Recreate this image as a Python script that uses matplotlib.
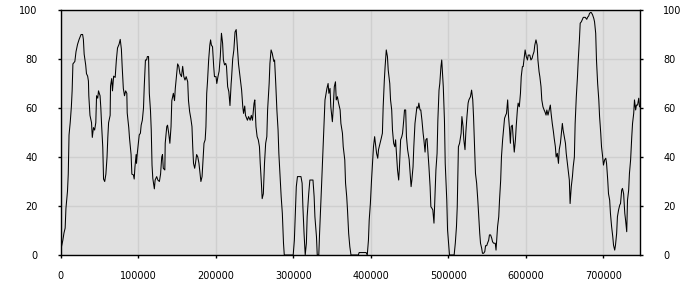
import matplotlib
matplotlib.use("Agg")
import matplotlib.pyplot as plt

# series values
x_vals = [
    0, 1000, 3000, 4500, 6000, 7000, 9000, 10000, 11000, 12500, 14000, 15000, 16000,
    18500, 20000, 22000, 24000, 26500, 28500, 29500, 30500, 32500, 33500, 35000, 36000,
    36500, 38000, 40000, 41000, 42500, 44000, 45500, 46500, 48000, 49000, 51000, 52000,
    53000, 54500, 55500, 57000, 58500, 60000, 61000, 62000, 64000, 64500, 66000, 67000,
    68500, 70500, 72000, 73500, 75500, 77000, 78500, 79500, 81000, 82500, 84000, 85500,
    86000, 88000, 89000, 91000, 92000, 94000, 95000, 96000, 97500, 98000, 99000, 100500,
    101500, 103000, 104000, 105500, 107000, 108000, 109500, 111000, 112000, 113500,
    114500, 116000, 117000, 118000, 119000, 121000, 122000, 124000, 125500, 127500,
    129000, 130500, 131500, 132500, 134500, 135000, 137000, 138000, 139500, 141000,
    142500, 143500, 145500, 147000, 148000, 150000, 151000, 152500, 154000, 156000,
    157500, 159000, 160500, 162000, 164000, 165000, 166500, 168000, 169500, 170500,
    171500, 173000, 174000, 175500, 177000, 178500, 180000, 181000, 182500, 183500,
    185000, 186500, 187500, 188500, 189500, 191000, 192500, 193500, 194500, 196000,
    197500, 198500, 200500, 201500, 203000, 204500, 206000, 207500, 209000, 210000,
    211500, 213000, 214000, 215500, 217000, 218500, 220000, 220500, 222000, 223500,
    225000, 226500, 228000, 229500,
    231500, 233500, 235000, 236000, 237500, 238500, 241000, 242500, 244500, 246000,
    247500, 249500, 250500, 252000, 253500, 255000, 256500, 257500, 259000, 260000,
    261500, 263000, 264500, 266000, 267000, 269000, 270000, 271500, 273000, 275000,
    276000, 277500, 279000, 280500, 281500, 283000, 284500, 286000, 287500, 288500,
    300000, 301500, 302500, 304000, 305500, 308000, 310000, 311500, 312500, 314000,
    315500, 317000, 318000, 320000, 321500, 324000, 325500, 327000, 328000, 330000,
    331000, 333000, 334000, 335500, 336500, 338000, 339500, 341000, 342500, 343500,
    345000, 346000, 347500, 348500, 350500, 351500, 353000, 354500, 355500, 357000,
    358500, 360500, 361500, 363500, 364500, 366500, 367500, 369000, 370000, 371500,
    373000, 374500, 384000, 385000, 388000, 394000, 395500, 397000, 398000, 399500,
    401000, 402500, 403500, 405000, 406500, 407500, 409000, 410000, 412000, 413500,
    415000, 416000, 417500, 418500, 420000, 421500, 422500, 424500, 425500, 427000,
    428000, 429500, 431000, 432000, 433500, 434500, 436000, 437000, 438500, 440000,
    441000, 442500, 443500, 445000, 446000, 447500, 449500, 450500, 452000, 453000,
    454500, 455500, 457000, 458500, 459500, 461000, 462000, 463500, 464500, 466000,
    467500, 468500, 470000, 471000, 472500, 473500, 475000, 476500, 477500, 479000,
    480000, 481500, 483000, 484000, 485500, 486500, 488000, 489000, 490500, 491500,
    492000, 493500, 495000, 496000, 498000, 499000, 500500, 501500, 507500, 509000,
    510500, 511500, 513000, 514500,
    516500, 517500, 519000, 520000, 521500, 522500, 524000, 525500, 526500, 528500,
    530000, 531500, 532500, 534000, 535000, 536500, 538000, 539000, 540500, 541500,
    543000, 544000, 545500, 547000, 548000, 549500, 550500, 552000, 553000, 554500,
    556000, 557000, 558500, 559500, 560500, 561500, 562500, 563500, 565000, 566000,
    567500, 568500, 570000, 571500, 572500, 574000, 575000, 576500, 577500, 579000,
    580000, 581000, 582500, 583500, 585000, 586500, 587500, 589000, 590000, 591500,
    593000, 594000, 595500, 596500, 598000, 599000, 600500, 602000, 603000, 605000,
    606500, 608000, 609000, 610500, 611500, 613000, 614500, 615500, 617000, 618000,
    619500, 620500, 622000, 623500, 624500, 626000, 627000, 628500, 630000, 631500,
    632500, 634000, 635500, 636500, 638000, 639000, 640500, 642000, 643000, 644500,
    645500, 647000, 648000, 649500, 651000, 652000, 653500, 654500, 656000, 657000,
    658500, 660000, 661000, 662500, 663500, 665000, 666500, 667500, 669000, 670000,
    671500, 672500, 674000, 675500, 676500, 678500, 679500, 681000, 682000, 683500,
    684500, 686000, 687500, 688500, 690000, 691000, 692500, 694000, 695000, 696500,
    697500, 699000, 700000, 701500, 703000, 704000, 705500, 706500, 708000, 709000,
    710500, 712000, 713000, 714500, 715500, 717000, 718000, 719500, 721000, 722000,
    723500, 724500, 726000, 727500, 728500, 730000, 731000, 732500, 733500, 735000,
    736500, 737500, 739000, 740000, 741500, 742500, 744000, 745500, 746500, 747500,
]

y_vals = [
    0, 3, 6, 9, 11, 19, 26, 33, 49, 54, 60.5, 67, 78,
    79, 83, 86, 88, 90, 90, 88, 82, 77.5, 74, 73, 71,
    65, 57, 54, 48, 52, 51, 54, 65, 64, 67, 65, 60,
    53, 44, 31, 30, 33, 40, 48, 54, 57, 69, 72, 67,
    73, 72.5, 79.5, 84.5, 86, 88, 84, 77, 68, 65, 67, 66,
    58, 52, 47.6, 41, 33, 32.7, 31, 36, 41, 37.4, 41.5, 46,
    49, 49.7, 53, 55, 60, 69, 79.6, 79.6, 81, 81,
    66, 59, 51, 36.7, 31.3, 27, 30.6, 32, 30.6, 30,
    33, 40, 41, 35.4, 34.7, 45.6, 52.4, 53, 49.7, 45.6,
    52.4, 63, 66, 63, 68, 75, 78, 77, 74, 72.8,
    77, 72.8, 71.4, 72.8, 70.7, 63, 58.5, 55.8, 52.4, 44,
    37.4, 35.4, 37.4, 41, 40, 37.4, 33, 30, 32, 37.4,
    45.6, 47, 52.4, 66, 70.7, 79.6, 85.7, 87.8, 85.7, 85,
    77, 72.8, 72.8, 70, 72.8, 75, 81, 90.5, 86.4, 79.6,
    77.6, 78.2, 77, 68.7, 66.7, 61, 70, 72, 80, 83.7,
    91, 92, 85, 78,
    72.8, 67.3, 60.5, 57.8, 60.8, 57, 55, 56.5, 55, 57,
    55, 61.9, 63.3, 52.4, 48.3, 47, 44.2, 37.4, 29.3, 23,
    25, 37.4, 45.6, 48.3, 59.2, 70, 78.2, 83.7, 82.3, 79,
    79.6, 70, 59, 51, 41.5, 33, 23.8, 17, 4.8, 0,
    0, 6, 14.3, 27.9, 32, 32, 32, 29.3, 19.7, 8.8,
    0, 4.8, 15.6, 25, 30.6, 30.6, 30.6, 23.8, 15.6, 7.5,
    0, 0, 8.8, 19.7, 27.9, 40, 52.4, 63.3, 66, 68,
    70, 66, 68, 60.5, 54.4, 59.2, 68.7, 70.7, 63.3, 64.6,
    62, 59.2, 53.7, 49.7, 44.2, 38.8, 29.3, 23.8, 18.4, 8.8,
    3.4, 0, 0, 1, 1, 1, 0, 6, 14.3, 21,
    30.6, 38.8, 44.2, 48.3, 44.2, 41.5, 39.5, 43, 45.6, 47.6,
    49.7, 60.5, 71.4, 76.9, 83.7, 81, 75.5, 70, 63.3, 59.2,
    51, 45.6, 44.2, 47, 40, 34.7, 30.6, 36, 47, 48.3,
    49.7, 55, 59.2, 59.2, 48.3, 43, 39, 34.7, 27.9, 30.6,
    36, 44.2, 53.7, 57.8, 60.5, 59.9, 62, 59.2, 59.2, 55,
    49.7, 47, 42, 47, 47.6, 43, 36, 27.9, 19.7, 19,
    18.4, 13, 26.5, 34.7, 41.5, 55, 67.3, 70, 76.9, 79.6,
    76.9, 68.7, 55, 37.4, 22.4, 10.2, 4, 0, 0, 4.8,
    11.6, 19.7, 44.2, 45.6,
    49.7, 56.5, 52.4, 47, 43, 49.7, 56.5, 62, 63.3, 64.6,
    67.3, 63.3, 56.5, 43, 33.3, 29.3, 22.4, 17, 8.8, 4.8,
    2.7, 0.7, 0.7, 1.4, 3.8, 3.8, 4.8, 6, 8.2, 8.2,
    6.8, 5.4, 4.8, 4.8, 4.8, 2, 6.8, 11.6, 15.6, 22.4,
    30.6, 40, 47, 52.4, 55.8, 57.1, 57.8, 63.3, 57.1, 51,
    45.6, 52.4, 53, 48.3, 42, 47, 52.4, 59.2, 62, 60.5,
    66, 72.8, 76.9, 76.9, 81, 83.7, 81, 79.6, 81.6, 81.6,
    79.6, 80.3, 81.6, 83, 85.7, 87.8, 85.7, 79.6, 74.8, 72.8,
    68.7, 63.3, 60.5, 59.2, 58.5, 57.1, 59.2, 57.1, 59.2, 61.2,
    57.8, 53.7, 50.3, 47.6, 44.2, 40, 41.5, 37.4, 43, 45.6,
    49, 53.7, 51, 48.3, 45.6, 41.5, 37.4, 34.7, 30.6, 21,
    27.9, 32, 36, 40, 53.7, 64.6, 72.8, 79.6, 87.8, 94.6,
    95.2, 95.9, 97, 97, 97, 96.2, 97, 97.6, 98.6, 99,
    98.9, 98, 96.6, 95.2, 90.5, 79.6, 70, 63.3, 56.5, 49.7,
    44.2, 40, 36.7, 38.8, 39.5, 37.4, 30.6, 25, 22.4, 17,
    11.6, 7.5, 4, 2, 4, 8.8, 15.6, 18.4, 20.4, 21,
    26.5, 27.2, 25, 17, 14.3, 9.5, 22.4, 26.5, 33.3, 38.8,
    48.3, 53.7, 57.8, 63.3, 59.2, 61.2, 61.2, 64, 60.5, 60.5,
]

x_ticks = [0, 100000, 200000, 300000, 400000, 500000, 600000, 700000]
y_ticks = [0, 20, 40, 60, 80, 100]

fig = plt.figure(figsize=(7, 3), dpi=100)
ax = fig.add_axes([60.5 / 700, 45 / 300, 579.8 / 700, 245 / 300])
ax.set_facecolor("#e0e0e0")
ax.plot(x_vals, y_vals, color="black", linewidth=0.75)

ax.set_xlim(0, 747500)
ax.set_ylim(0, 100)
ax.set_xticks(x_ticks)
ax.set_yticks(y_ticks)
ax.set_xticklabels([str(t) for t in x_ticks])
ax.grid(True, color="#cfcfcf", linewidth=1)
ax.set_axisbelow(True)

for s in ax.spines.values():
    s.set_color("black")
    s.set_linewidth(1)

ax.tick_params(axis="both", direction="out", length=2.5, width=1, labelsize=7, colors="black")
ax.tick_params(axis="y", left=True, right=True, labelleft=True, labelright=True, pad=14)
ax.tick_params(axis="x", pad=9)

fig.savefig("out.png", dpi=100)
